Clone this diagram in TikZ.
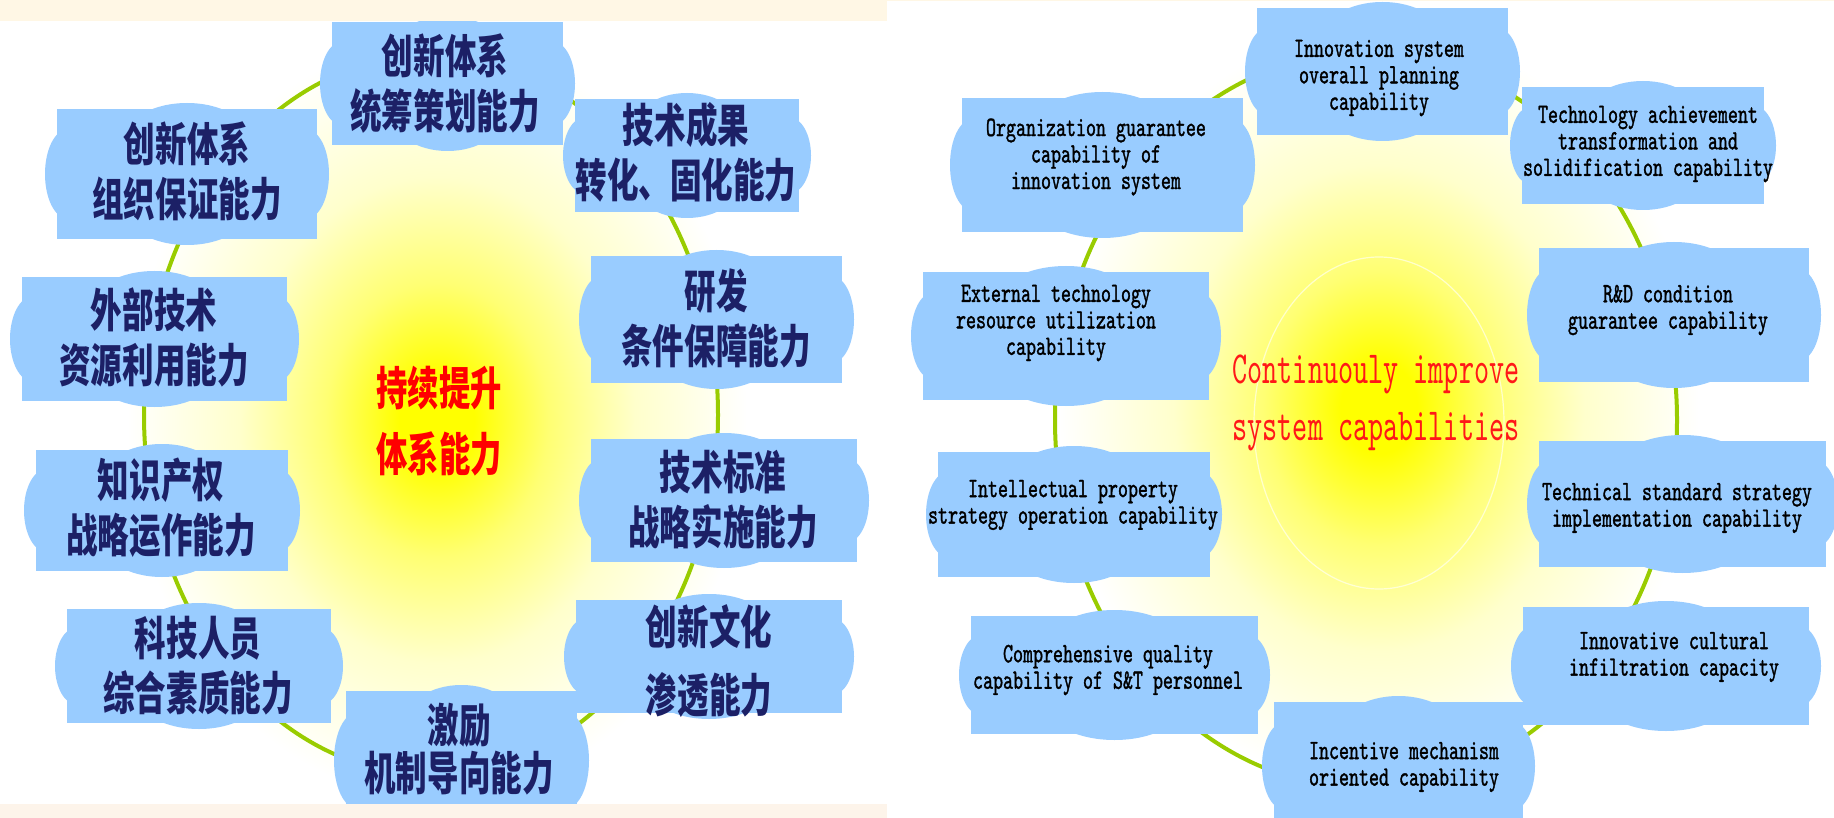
\documentclass[tikz,border=0pt]{standalone}
\usepackage{fontspec}
\newfontfamily\cnfont[FakeStretch=0.685]{Noto Sans CJK SC}
\newfontfamily\cnredfont[FakeStretch=0.68]{Noto Sans CJK SC}
\newfontfamily\enfont[FakeStretch=0.68,FakeBold=1.2]{lmmono10-regular.otf}
\newfontfamily\enredfont[FakeStretch=0.625]{lmmono10-regular.otf}
\definecolor{boxfill}{RGB}{153,204,255}
\definecolor{ringgreen}{RGB}{153,204,0}
\definecolor{cntext}{RGB}{28,32,102}
\definecolor{bandtop}{RGB}{255,247,229}
\definecolor{bandbot}{RGB}{253,244,234}
\definecolor{redtxt}{RGB}{255,0,0}
\definecolor{redeng}{RGB}{255,24,24}
\pgfdeclareradialshading{glowshade}{\pgfpointorigin}{color(0bp)=(yellow); color(3bp)=(yellow); color(9bp)=(yellow!55!white); color(16bp)=(yellow!20!white); color(25bp)=(white); color(50bp)=(white)}
\tikzset{
  cn/.style={font=\cnfont\bfseries\fontsize{46}{#1}\selectfont, text=cntext, align=center, inner sep=0pt},
  cn/.default=55,
  en/.style={font=\enfont\fontsize{28}{26.5}\selectfont, text=black, align=center, inner sep=0pt},
  ring/.style={draw=ringgreen, line width=4pt},
  boxbg/.style={fill=boxfill},
  cnred/.style={font=\cnredfont\bfseries\fontsize{46}{66}\selectfont, text=redtxt, align=center, inner sep=0pt},
  enred/.style={font=\enredfont\fontsize{46}{57}\selectfont, text=redeng, align=center, inner sep=0pt},
}
\newcommand\capbox[9]{%
  \pgfmathsetmacro\bxa{#2}%
  \pgfmathsetmacro\bya{#3}%
  \pgfmathsetmacro\bxb{#4}%
  \pgfmathsetmacro\byb{#5}%
  \pgfmathsetmacro\bcx{(\bxa+\bxb)/2}%
  \pgfmathsetmacro\bcy{(\bya+\byb)/2}%
  \pgfmathsetmacro\bry{0.34*(\byb-\bya)}%
  \pgfmathsetmacro\brx{0.24*(\bxb-\bxa)}%
  \fill[boxbg] (\bxa,\bya) rectangle (\bxb,\byb);
  \fill[boxbg] (\bxa+10,\bcy) ellipse [x radius=22pt, y radius=\bry pt];
  \fill[boxbg] (\bxb-10,\bcy) ellipse [x radius=22pt, y radius=\bry pt];
  \fill[boxbg] (\bcx,\bya+30) ellipse [x radius=\brx pt, y radius=36pt];
  \fill[boxbg] (\bcx,\byb-30) ellipse [x radius=\brx pt, y radius=36pt];
  \node[#8] (#1) at (#6,#7) {#9};
}
\begin{document}
\begin{tikzpicture}[x=1pt,y=-1pt]
\useasboundingbox (0,0) rectangle (1834,818);
\fill[white] (0,0) rectangle (1834,818);
% glows
\shade[shading=glowshade] (437,420) ellipse [x radius=310pt, y radius=380pt];
\shade[shading=glowshade] (1379,408) ellipse [x radius=320pt, y radius=380pt];
\draw[white, line width=1.2pt, opacity=0.6] (1379,423) ellipse [x radius=125pt, y radius=166pt];
% rings
\draw[ring] (431,415) ellipse [x radius=287pt, y radius=360pt];
\draw[ring] (1366,420) ellipse [x radius=311pt, y radius=368pt];
% left panel
\capbox{la}{332}{22}{563}{145}{445}{84}{cn}{创新体系\\统筹策划能力}
\capbox{lb}{57}{109}{317}{239}{187}{171}{cn}{创新体系\\组织保证能力}
\capbox{lc}{575}{99}{799}{212}{686}{152}{cn}{技术成果\\转化、固化能力}
\capbox{ld}{22}{277}{287}{401}{154}{337}{cn}{外部技术\\资源利用能力}
\capbox{le}{591}{256}{842}{383}{716}{318}{cn}{研发\\条件保障能力}
\capbox{lf}{36}{450}{288}{571}{161}{508}{cn}{知识产权\\战略运作能力}
\capbox{lg}{591}{439}{857}{562}{723}{500}{cn}{技术标准\\战略实施能力}
\capbox{lh}{67}{609}{331}{723}{198}{666}{cn}{科技人员\\综合素质能力}
\capbox{li}{576}{600}{842}{713}{709}{661}{cn=68}{创新文化\\渗透能力}
\capbox{lj}{346}{691}{577}{830}{459}{749}{cn=48}{激励\\机制导向能力}
\node[cnred] (lcenter) at (439,421) {持续提升\\体系能力};
% right panel
\capbox{ra}{1257}{8}{1508}{135}{1379}{78}{en}{Innovation system\\overall planning\\capability}
\capbox{rb}{962}{98}{1243}{232}{1096}{157}{en}{Organization guarantee\\capability of\\innovation system}
\capbox{rc}{1522}{87}{1764}{204}{1648}{144}{en}{Technology achievement\\transformation and\\solidification capability}
\capbox{rd}{923}{272}{1209}{400}{1056}{323}{en}{External technology\\resource utilization\\capability}
\capbox{re}{1539}{248}{1809}{382}{1668}{310}{en}{R\&D condition\\guarantee capability}
\capbox{rf}{938}{452}{1210}{577}{1073}{505}{en}{Intellectual property\\strategy operation capability}
\capbox{rg}{1539}{441}{1826}{567}{1677}{508}{en}{Technical standard strategy\\implementation capability}
\capbox{rh}{971}{616}{1258}{734}{1108}{670}{en}{Comprehensive quality\\capability of S\&T personnel}
\capbox{ri}{1523}{607}{1809}{725}{1674}{657}{en}{Innovative cultural\\infiltration capacity}
\capbox{rj}{1274}{702}{1523}{830}{1404}{767}{en}{Incentive mechanism\\oriented capability}
\node[enred] (rcenter) at (1376,403) {Continuouly improve\\system capabilities};
% bands
\fill[bandtop] (0,0) rectangle (887,21);
\fill[bandbot] (0,804) rectangle (887,818);
\fill[bandtop] (887,0) rectangle (1834,1.5);
\end{tikzpicture}
\end{document}
